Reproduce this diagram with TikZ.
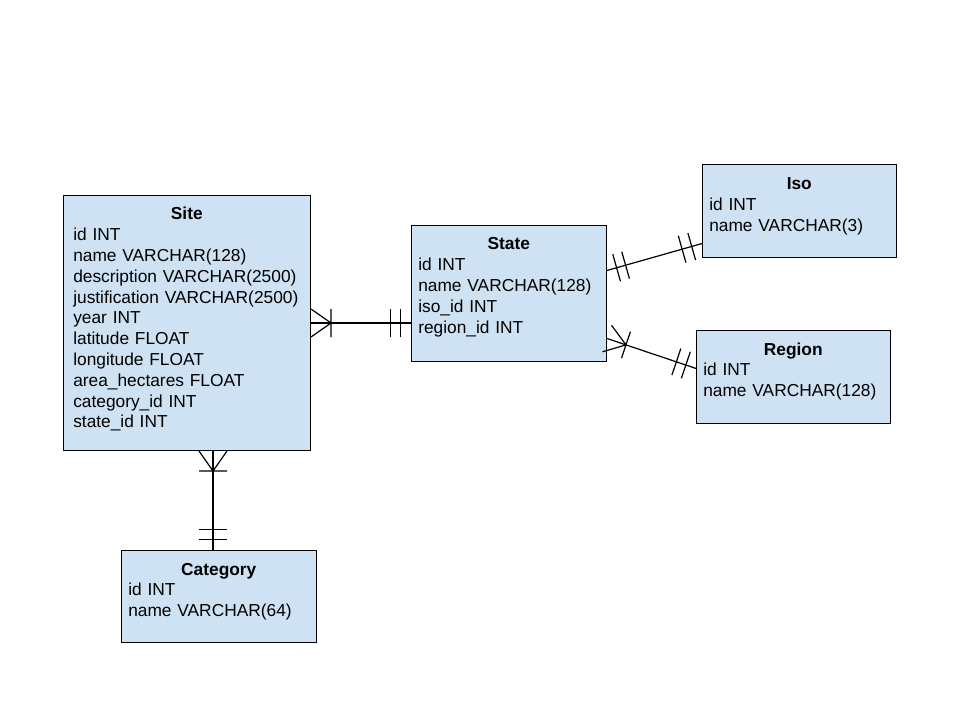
\documentclass[tikz,border=0pt]{standalone}
\usepackage{fontspec}
\setmainfont{Liberation Sans}
\usepackage{xcolor}
\usetikzlibrary{positioning,decorations.markings}
\definecolor{tablefill}{HTML}{CFE2F3}

\begin{document}
\begin{tikzpicture}[
    x=0.75pt, y=-0.75pt,
    every node/.style={font=\fontsize{13pt}{15.6pt}\selectfont},
    tablebox/.style={draw=black, fill=tablefill, anchor=north west, inner sep=0pt, line width=0.75pt},
    fields/.style={anchor=base west, align=left, inner sep=0pt},
    link/.style={draw=black, line width=0.9pt},
    one start/.style={postaction={decorate, decoration={markings,
        mark=at position 7.5pt with {\draw[link] (0pt,-10.5pt) -- (0pt,10.5pt);},
        mark=at position 14.5pt with {\draw[link] (0pt,-10.5pt) -- (0pt,10.5pt);}}}},
    one end/.style={postaction={decorate, decoration={markings,
        mark=at position -15.5pt with {\draw[link] (0pt,-10.5pt) -- (0pt,10.5pt);},
        mark=at position -8pt with {\draw[link] (0pt,-10.5pt) -- (0pt,10.5pt);}}}},
    many start/.style={postaction={decorate, decoration={markings,
        mark=at position 0.01pt with {\draw[link] (0pt,10.5pt) -- (15pt,0pt) -- (0pt,-10.5pt)
            (15pt,-10.5pt) -- (15pt,10.5pt);}}}}
]
\useasboundingbox[fill=white] (0,0) rectangle (960,720);

\node[tablebox, minimum width=185.25pt, minimum height=191.25pt] (site) at (63,195) {};
\node[fields, text width=170.25pt] (site fields) at ([shift={(10,25)}]site.north west)
    {{\centering\bfseries Site\par}id INT\\name VARCHAR(128)\\\mbox{description VARCHAR(2500)}\\
     \mbox{justification VARCHAR(2500)}\\year INT\\latitude FLOAT\\longitude FLOAT\\
     area\_hectares FLOAT\\category\_id INT\\state\_id INT};

\node[tablebox, minimum width=146.25pt, minimum height=102pt] (state) at (411,225) {};
\node[fields, text width=135.75pt] (state fields) at ([shift={(7,25)}]state.north west)
    {{\centering\bfseries State\par}id INT\\name VARCHAR(128)\\iso\_id INT\\region\_id INT};

\node[tablebox, minimum width=145.5pt, minimum height=69.75pt] (iso) at (702,164) {};
\node[fields, text width=135pt] (iso fields) at ([shift={(7,26)}]iso.north west)
    {{\centering\bfseries Iso\par}id INT\\name VARCHAR(3)};

\node[tablebox, minimum width=145.5pt, minimum height=69.75pt] (region) at (696,330) {};
\node[fields, text width=135pt] (region fields) at ([shift={(7,25)}]region.north west)
    {{\centering\bfseries Region\par}id INT\\name VARCHAR(128)};

\node[tablebox, minimum width=146.25pt, minimum height=69pt] (category) at (121,550) {};
\node[fields, text width=135.75pt] (category fields) at ([shift={(7,25)}]category.north west)
    {{\centering\bfseries Category\par}id INT\\name VARCHAR(64)};

\draw[link, many start, one end] (site.east) -- (site.east -| state.west);
\draw[link, one start, one end] ([yshift=17.25pt]state.east) -- ([yshift=-24.4pt]iso.west);
\draw[link, many start, one end] ([yshift=-33.75pt]state.east) -- ([yshift=6.4pt]region.west);
\draw[link, many start, one end] ([xshift=19.5pt]site.south) -- ([xshift=19.5pt]site.south |- category.north);
\end{tikzpicture}
\end{document}
